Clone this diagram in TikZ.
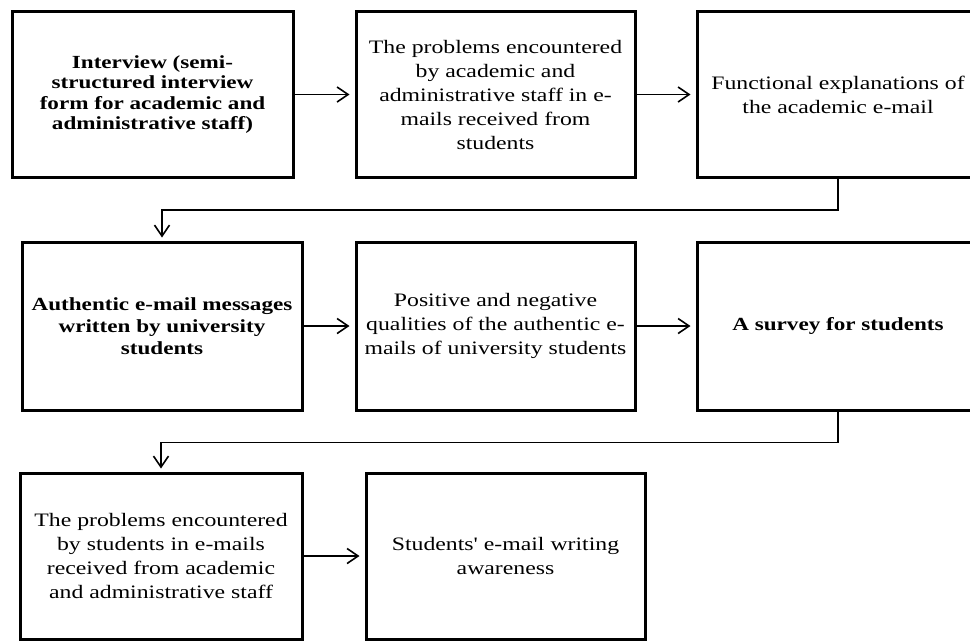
\documentclass[tikz,border=0pt]{standalone}
\usepackage{fontspec}
\setmainfont{Liberation Serif}[FakeStretch=1.25]
\newfontfamily\aposfont{Liberation Serif}[FakeStretch=1.25,Ligatures=ResetAll]
\usetikzlibrary{arrows.meta}
\begin{document}
\begin{tikzpicture}[x=1pt,y=-1pt,
  stepbox/.style={draw, line width=3pt, minimum height=166pt, inner sep=0pt,
    align=center, font=\fontsize{19}{24}\selectfont},
  arr/.style={line width=1.6pt, -{Straight Barb[length=11pt,width=15pt,line width=1.6pt]}, shorten >=5pt}]
\path[clip] (0,0) rectangle (970,641);
\fill[white] (0,0) rectangle (970,641);
% row 1
\node[stepbox, minimum width=281pt, font=\fontsize{18.5}{20.5}\selectfont\bfseries] (b1) at (152.5,94.5)
  {Interview (semi-\\structured interview\\form for academic and\\administrative staff)};
\node[stepbox, minimum width=279pt] (b2) at (495.5,94.5)
  {The problems encountered\\by academic and\\administrative staff in e-\\mails received from\\students};
\node[stepbox, minimum width=282pt] (b3) at (838,94.5)
  {Functional explanations of\\the academic e-mail};
% row 2
\node[stepbox, minimum width=280pt, minimum height=168pt, font=\fontsize{18.5}{22}\selectfont\bfseries] (b4) at (162,326)
  {Authentic e-mail messages\\written by university\\students};
\node[stepbox, minimum width=279pt, minimum height=168pt] (b5) at (495.5,326)
  {Positive and negative\\qualities of the authentic e-\\mails of university students};
\node[stepbox, minimum width=282pt, minimum height=168pt, font=\fontsize{18.5}{22}\selectfont\bfseries] (b6) at (838,326)
  {A survey for students};
% row 3
\node[stepbox, minimum width=282pt] (b7) at (161,556)
  {The problems encountered\\by students in e-mails\\received from academic\\and administrative staff};
\node[stepbox, minimum width=279pt] (b8) at (505.5,556)
  {Students{\aposfont'} e-mail writing\\awareness};
% connectors
\draw[arr] (b1) -- (b2);
\draw[arr] (b2) -- (b3);
\draw[arr] (b4) -- (b5);
\draw[arr] (b5) -- (b6);
\draw[arr] (b7) -- (b8);
\draw[arr, shorten >=3pt] (b3.south) -- ++(0,31) -| (b4.north);
\draw[arr, shorten >=3pt] (b6.south) -- ++(0,31) -| (b7.north);
\end{tikzpicture}
\end{document}
